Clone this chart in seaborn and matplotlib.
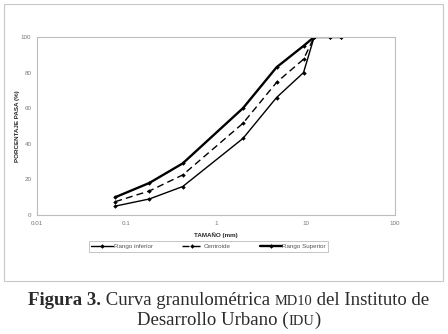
import matplotlib
matplotlib.use("Agg")
import matplotlib.pyplot as plt
import seaborn as sns
import pandas as pd
from matplotlib.patches import Rectangle

# ---- data ----
tamano_mm = [0.075, 0.18, 0.425, 2.0, 4.75, 9.5, 12.5, 19.0, 25.0]
rango_inferior = [5, 9, 16, 43, 66, 80, 100, 100, 100]
centroide = [7.5, 13.5, 22.5, 51.5, 74.5, 87.5, 100, 100, 100]
rango_superior = [10, 18, 29, 60, 83, 95, 100, 100, 100]
series_names = ["Rango inferior", "Centroide", "Rango Superior"]
x_ticks = [0.01, 0.1, 1, 10, 100]
x_tick_labels = ["0.01", "0.1", "1", "10", "100"]
y_ticks = [0, 20, 40, 60, 80, 100]

df = pd.DataFrame({
    "tamano": tamano_mm * 3,
    "pasa": rango_inferior + centroide + rango_superior,
    "serie": [series_names[0]] * len(tamano_mm)
             + [series_names[1]] * len(tamano_mm)
             + [series_names[2]] * len(tamano_mm),
})

sns.set_style("white")
plt.rcParams["font.family"] = ["Liberation Sans", "DejaVu Sans"]

fig = plt.figure(figsize=(4.48, 3.34), dpi=100)
# outer chart frame
fig.patches.append(Rectangle((4 / 448, 1 - 281 / 334), 439 / 448, 277 / 334,
                             transform=fig.transFigure, fill=False,
                             edgecolor="#c8c8c8", linewidth=0.8))

ax = fig.add_axes([37 / 448, 1 - 215 / 334, 358 / 448, 178 / 334])

styles = {
    "Rango inferior": dict(lw=1.0, ls="-"),
    "Centroide": dict(lw=1.0, ls=(0, (5, 3))),
    "Rango Superior": dict(lw=1.7, ls="-"),
}
handles = []
for name in series_names:
    sub = df[df["serie"] == name]
    st = styles[name]
    sns.lineplot(data=sub, x="tamano", y="pasa", ax=ax, color="black",
                 linewidth=st["lw"], linestyle=st["ls"], marker="D",
                 markersize=2.3, markeredgewidth=0, legend=False,
                 estimator=None, sort=False)
    handles.append(ax.lines[-1])

ax.set_xscale("log")
ax.set_xlim(0.01, 100)
ax.set_ylim(0, 100)
ax.set_xticks(x_ticks)
ax.set_xticklabels(x_tick_labels)
ax.minorticks_off()
ax.set_yticks(y_ticks)
ax.tick_params(axis="both", labelsize=4.5, labelcolor="#777777", color="#999999",
               length=2, width=0.5, pad=2, direction="out")
for s in ax.spines.values():
    s.set_color("#bdbdbd")
    s.set_linewidth(0.8)

ax.set_xlabel("TAMAÑO (mm)", fontsize=4.5, fontweight="bold")
ax.set_ylabel("PORCENTAJE PASA (%)", fontsize=4.5, fontweight="bold")
ax.xaxis.set_label_coords((216 - 37) / 358, -(232 - 215) / 178)
ax.yaxis.set_label_coords(-(37 - 20) / 358, 0.5)

leg = fig.legend(handles, series_names, loc="center",
                 bbox_to_anchor=(208.5 / 448, 1 - 246.5 / 334), ncol=3,
                 fontsize=4.5, frameon=True, fancybox=False, handlelength=3.5,
                 handletextpad=0.1, columnspacing=4.6, borderpad=0.4)
leg.get_frame().set_edgecolor("#aaaaaa")
leg.get_frame().set_linewidth(0.6)
for t in leg.get_texts():
    t.set_color("#555555")

# ---- caption ----
serif = ["Liberation Serif", "DejaVu Serif"]
fs = 13.5
sc = 10.4
col = "#2a2a2a"

l1 = [("Figura 3.", fs, "bold"), (" Curva granulométrica ", fs, "normal"),
      ("MD10", sc, "normal"), (" del Instituto de", fs, "normal")]
l2 = [("Desarrollo Urbano (", fs, "normal"), ("IDU", sc, "normal"),
      (")", fs, "normal")]

lines = []
for pieces, ypix in [(l1, 305), (l2, 325)]:
    objs = []
    for txt, size, weight in pieces:
        t = fig.text(0, 1 - ypix / 334, txt, fontsize=size, fontweight=weight,
                     family=serif, color=col, ha="left", va="baseline")
        objs.append(t)
    lines.append(objs)

fig.canvas.draw()
r = fig.canvas.get_renderer()
cx = 228.5
for objs in lines:
    widths = [o.get_window_extent(r).width for o in objs]
    total = sum(widths)
    x = cx - total / 2
    for o, w in zip(objs, widths):
        o.set_x(x / 448)
        x += w

fig.savefig("out.png", dpi=100)
